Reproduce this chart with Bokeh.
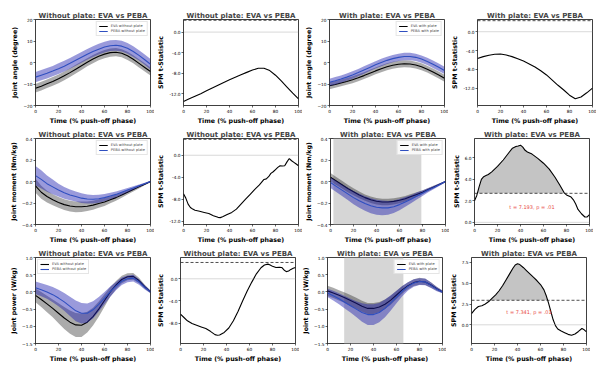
import numpy as np
from bokeh.plotting import figure
from bokeh.layouts import column, row
from bokeh.models import Range1d, FixedTicker, BoxAnnotation, Span, Label, Legend, LegendItem
from bokeh.embed import file_html
from bokeh.resources import INLINE

# ---------------- data ----------------
t = list(range(0, 101, 5))

# Row 1: joint angle (degree)
eva_ang_np = [-12.0, -11.0, -9.9, -8.8, -7.6, -6.2, -4.7, -3.1, -1.5, 0.1, 1.6, 2.9, 3.9, 4.6, 4.8, 4.3, 3.1, 1.5, -0.4, -2.3, -4.2]
eva_ang_np_sd = [2.0, 2.0, 2.0, 2.0, 2.0, 2.0, 2.0, 2.0, 2.0, 1.9, 1.9, 1.9, 1.9, 1.9, 1.9, 1.9, 1.9, 1.9, 1.9, 1.9, 1.9]
peba_ang_np = [-6.8, -5.9, -5.0, -4.0, -2.9, -1.7, -0.4, 1.0, 2.4, 3.8, 5.1, 6.2, 7.2, 7.8, 8.0, 7.6, 6.6, 5.1, 3.3, 1.3, -0.8]
peba_ang_np_sd = [2.4, 2.4, 2.4, 2.4, 2.5, 2.5, 2.5, 2.5, 2.5, 2.5, 2.5, 2.5, 2.5, 2.5, 2.5, 2.5, 2.5, 2.5, 2.4, 2.4, 2.4]
eva_ang_wp = [-10.8, -10.2, -9.5, -8.8, -8.0, -7.1, -6.1, -5.0, -3.9, -2.9, -2.0, -1.3, -0.8, -0.6, -0.7, -1.2, -2.0, -3.1, -4.4, -5.8, -7.3]
eva_ang_wp_sd = [1.6] * 21
peba_ang_wp = [-9.2, -8.5, -7.7, -6.8, -5.8, -4.7, -3.5, -2.3, -1.1, 0.0, 1.0, 1.8, 2.4, 2.8, 2.8, 2.4, 1.6, 0.5, -0.8, -2.2, -3.7]
peba_ang_wp_sd = [1.7] * 21

# Row 2: joint moment (Nm/kg)
eva_mom_np = [-0.04, -0.10, -0.14, -0.17, -0.195, -0.215, -0.228, -0.235, -0.235, -0.23, -0.22, -0.205, -0.19, -0.17, -0.15, -0.125, -0.10, -0.075, -0.05, -0.025, 0.0]
eva_mom_np_sd = [0.065, 0.06, 0.055, 0.052, 0.05, 0.05, 0.05, 0.05, 0.048, 0.045, 0.042, 0.04, 0.037, 0.033, 0.03, 0.026, 0.022, 0.018, 0.014, 0.01, 0.008]
peba_mom_np = [0.055, 0.02, -0.02, -0.05, -0.08, -0.105, -0.125, -0.14, -0.155, -0.163, -0.165, -0.16, -0.15, -0.135, -0.12, -0.10, -0.08, -0.06, -0.04, -0.02, 0.0]
peba_mom_np_sd = [0.09, 0.085, 0.075, 0.068, 0.06, 0.055, 0.05, 0.047, 0.045, 0.042, 0.04, 0.037, 0.034, 0.03, 0.027, 0.023, 0.02, 0.016, 0.012, 0.009, 0.007]
eva_mom_wp = [0.04, 0.005, -0.03, -0.065, -0.095, -0.125, -0.15, -0.17, -0.183, -0.19, -0.19, -0.185, -0.175, -0.16, -0.14, -0.12, -0.10, -0.075, -0.05, -0.025, 0.0]
eva_mom_wp_sd = [0.04, 0.038, 0.036, 0.034, 0.032, 0.031, 0.03, 0.03, 0.03, 0.03, 0.03, 0.029, 0.028, 0.026, 0.024, 0.021, 0.018, 0.015, 0.012, 0.009, 0.007]
peba_mom_wp = [-0.01, -0.045, -0.08, -0.115, -0.15, -0.18, -0.205, -0.225, -0.24, -0.245, -0.245, -0.235, -0.215, -0.19, -0.165, -0.135, -0.11, -0.08, -0.055, -0.028, 0.0]
peba_mom_wp_sd = [0.05, 0.052, 0.055, 0.058, 0.062, 0.065, 0.068, 0.07, 0.07, 0.068, 0.064, 0.058, 0.052, 0.045, 0.038, 0.032, 0.026, 0.02, 0.015, 0.011, 0.008]

# Row 3: joint power (W/kg)
eva_pow_np = [-0.10, -0.22, -0.35, -0.48, -0.62, -0.76, -0.88, -0.96, -0.97, -0.88, -0.72, -0.50, -0.25, 0.0, 0.20, 0.36, 0.44, 0.45, 0.33, 0.15, 0.0]
eva_pow_np_sd = [0.2, 0.22, 0.24, 0.26, 0.29, 0.32, 0.34, 0.35, 0.34, 0.30, 0.26, 0.22, 0.18, 0.14, 0.12, 0.11, 0.10, 0.10, 0.08, 0.06, 0.04]
peba_pow_np = [0.12, 0.06, 0.0, -0.08, -0.18, -0.29, -0.42, -0.55, -0.62, -0.62, -0.52, -0.36, -0.18, 0.01, 0.17, 0.31, 0.38, 0.40, 0.29, 0.13, 0.0]
peba_pow_np_sd = [0.18, 0.19, 0.2, 0.22, 0.24, 0.26, 0.28, 0.3, 0.3, 0.28, 0.25, 0.21, 0.18, 0.15, 0.12, 0.11, 0.10, 0.10, 0.08, 0.06, 0.04]
eva_pow_wp = [0.03, -0.03, -0.10, -0.17, -0.25, -0.33, -0.42, -0.48, -0.48, -0.44, -0.36, -0.24, -0.09, 0.06, 0.18, 0.27, 0.31, 0.29, 0.20, 0.09, 0.0]
eva_pow_wp_sd = [0.15, 0.15, 0.15, 0.15, 0.16, 0.16, 0.16, 0.16, 0.16, 0.15, 0.14, 0.13, 0.12, 0.11, 0.1, 0.1, 0.1, 0.09, 0.08, 0.06, 0.04]
peba_pow_wp = [-0.03, -0.11, -0.20, -0.30, -0.40, -0.50, -0.60, -0.66, -0.66, -0.60, -0.48, -0.32, -0.15, 0.02, 0.16, 0.26, 0.30, 0.29, 0.19, 0.08, 0.0]
peba_pow_wp_sd = [0.12, 0.14, 0.16, 0.18, 0.2, 0.23, 0.27, 0.3, 0.3, 0.28, 0.26, 0.22, 0.18, 0.15, 0.12, 0.11, 0.10, 0.10, 0.08, 0.06, 0.04]

# SPM t-statistics
spm_ang_np_x = list(range(0, 101, 5))
spm_ang_np = [-13.5, -13.0, -12.5, -12.0, -11.45, -10.9, -10.35, -9.8, -9.3, -8.8, -8.3, -7.85, -7.4, -7.05, -7.05, -7.5, -8.4, -9.5, -10.7, -11.9, -13.0]
spm_ang_wp_x = list(range(0, 101, 5))
spm_ang_wp = [-5.7, -5.3, -5.0, -4.8, -4.75, -4.95, -5.3, -5.75, -6.25, -6.85, -7.5, -8.3, -9.2, -10.3, -11.4, -12.4, -13.5, -14.25, -13.9, -13.0, -12.0]
spm_mom_np_x = [0, 2, 4, 6, 8, 10, 14, 18, 22, 26, 30, 32, 34, 38, 42, 46, 50, 54, 58, 62, 66, 70, 72, 74, 76, 78, 80, 82, 84, 86, 88, 90, 92, 94, 96, 98, 100]
spm_mom_np = [-7.0, -7.8, -8.9, -9.5, -9.8, -10.0, -10.2, -10.4, -10.6, -11.0, -11.3, -11.35, -11.2, -10.8, -10.4, -9.8, -8.9, -8.0, -7.1, -6.2, -5.4, -4.4, -4.3, -3.9, -3.3, -3.0, -2.6, -2.2, -1.9, -1.95, -1.9, -1.2, -0.6, -1.0, -1.3, -1.6, -1.9]
spm_mom_wp_x = [0, 2, 4, 6, 8, 10, 12, 15, 20, 25, 30, 33, 36, 38, 40, 42, 44, 46, 50, 55, 60, 65, 70, 74, 78, 80, 84, 86, 88, 90, 93, 96, 98, 100]
spm_mom_wp = [2.0, 2.5, 3.3, 4.0, 4.25, 4.35, 4.45, 4.7, 5.2, 5.8, 6.5, 6.9, 7.05, 7.1, 7.18, 7.0, 6.7, 6.55, 6.35, 5.95, 5.5, 4.95, 4.2, 3.5, 2.75, 2.55, 2.35, 2.1, 1.7, 1.2, 0.8, 0.5, 0.5, 0.72]
spm_pow_np_x = [0, 3, 6, 10, 14, 18, 22, 26, 30, 32, 34, 38, 42, 46, 50, 54, 58, 62, 66, 70, 73, 76, 78, 80, 83, 86, 88, 90, 92, 94, 96, 98, 100]
spm_pow_np = [-6.4, -7.0, -7.6, -8.1, -8.4, -8.7, -9.0, -9.5, -10.1, -10.2, -10.15, -9.7, -8.9, -7.6, -5.9, -4.0, -2.2, -0.6, 0.9, 2.0, 2.5, 2.65, 2.5, 2.25, 2.05, 2.1, 2.05, 1.6, 1.3, 1.4, 1.7, 1.9, 2.05]
spm_pow_wp_x = [0, 3, 6, 9, 12, 15, 18, 21, 24, 27, 30, 33, 36, 38, 40, 42, 45, 48, 51, 54, 57, 60, 63, 65, 67, 69, 71, 73, 75, 78, 81, 84, 87, 90, 93, 96, 98, 100]
spm_pow_wp = [1.35, 1.85, 2.2, 2.3, 2.5, 2.8, 3.2, 3.6, 4.1, 4.7, 5.4, 6.1, 6.8, 7.2, 7.35, 7.25, 6.9, 6.5, 6.1, 5.7, 5.3, 4.85, 4.2, 3.5, 2.6, 1.6, 0.6, -0.1, -0.5, -0.75, -0.95, -1.15, -1.25, -1.1, -0.8, -0.45, -0.6, -0.85]

# critical thresholds
thr_ang_np, thr_ang_wp = 2.3, 2.35
thr_mom_np, thr_mom_wp = 2.9, 2.7
thr_pow_np, thr_pow_wp = 2.95, 2.95

# significant clusters (grey boxes)
clu_mom = (2.5, 79.0)
clu_pow = (14.5, 66.0)

x_ticks = [0, 20, 40, 60, 80, 100]

FONT = "DejaVu Sans"
BLUE = "#2f4fc0"
BLUE_BAND = "#2020b0"
GREY_BAND = "#000000"
FH = 86


def minus(v, fmt):
    s = fmt.format(v)
    return s.replace("-", "\u2212")


def base_fig(title, ylabel, yr, yticks, ylabels, L, R, T, B):
    p = figure(frame_width=115, frame_height=FH, x_range=Range1d(0, 100),
               y_range=Range1d(*yr), output_backend="svg", toolbar_location=None,
               min_border_left=L, min_border_right=R, min_border_top=T,
               min_border_bottom=B, title=title)
    p.title.text_font = FONT
    p.title.text_font_size = "7px"
    p.title.text_font_style = "bold"
    p.title.align = "center"
    p.title.standoff = 0
    p.grid.visible = False
    p.outline_line_color = "black"
    p.outline_line_alpha = 1
    p.outline_line_width = 0.75
    p.background_fill_color = "white"
    p.border_fill_color = "white"
    for ax in (p.xaxis[0], p.yaxis[0]):
        ax.axis_line_color = None
        ax.major_tick_line_color = "black"
        ax.major_tick_line_width = 0.6
        ax.major_tick_out = 2
        ax.major_tick_in = 0
        ax.minor_tick_line_color = None
        ax.major_label_text_font = FONT
        ax.major_label_text_font_size = "4.3px"
        ax.major_label_text_color = "black"
        ax.major_label_standoff = 1
        ax.axis_label_text_font = FONT
        ax.axis_label_text_font_size = "6.3px"
        ax.axis_label_text_font_style = "bold"
        ax.axis_label_text_color = "black"
        ax.axis_label_standoff = 2
    p.xaxis.axis_label_standoff = 1
    p.xaxis.ticker = FixedTicker(ticks=x_ticks)
    p.xaxis.axis_label = "Time (% push-off phase)"
    p.yaxis.ticker = FixedTicker(ticks=yticks)
    p.yaxis.major_label_overrides = {v: s for v, s in zip(yticks, ylabels)}
    p.yaxis.axis_label = ylabel
    return p


def mean_fig(title, ylabel, yr, yticks, fmt, eva, eva_sd, peba, peba_sd, lab_eva, lab_peba, loc,
             L, R, T, B, cluster=None):
    labels = [minus(v, fmt) for v in yticks]
    p = base_fig(title, ylabel, yr, yticks, labels, L, R, T, B)
    if cluster is not None:
        p.add_layout(BoxAnnotation(left=cluster[0], right=cluster[1], fill_color="#d6d6d6",
                                   fill_alpha=1, line_color=None, level="underlay"))
    e = np.array(eva); es = np.array(eva_sd)
    b = np.array(peba); bs = np.array(peba_sd)
    p.varea(x=t, y1=e - es, y2=e + es, fill_color=GREY_BAND, fill_alpha=0.33)
    le = p.line(t, e, line_color="black", line_width=1.1)
    p.varea(x=t, y1=b - bs, y2=b + bs, fill_color=BLUE_BAND, fill_alpha=0.45)
    lb = p.line(t, b, line_color=BLUE, line_width=1.1)
    leg = Legend(items=[LegendItem(label=lab_eva, renderers=[le]),
                        LegendItem(label=lab_peba, renderers=[lb])],
                 location=loc)
    leg.label_text_font = FONT
    leg.label_text_font_size = "3.6px"
    leg.glyph_width = 9
    leg.glyph_height = 4
    leg.label_height = 4
    leg.label_standoff = 3
    leg.spacing = 1
    leg.padding = 2
    leg.margin = 2
    leg.border_line_color = "#cccccc"
    leg.border_line_width = 0.5
    leg.background_fill_alpha = 0.85
    p.add_layout(leg)
    return p


def shade_above(xs, ys, thr):
    xs2, ys2 = [], []
    for i in range(len(xs)):
        if i > 0:
            y0, y1 = ys[i - 1], ys[i]
            if (y0 - thr) * (y1 - thr) < 0:
                xc = xs[i - 1] + (thr - y0) / (y1 - y0) * (xs[i] - xs[i - 1])
                xs2.append(xc)
                ys2.append(thr)
        xs2.append(xs[i])
        ys2.append(ys[i])
    return np.array(xs2), np.maximum(np.array(ys2), thr)


def spm_fig(title, yr, yticks, xs, ys, thr, L, R, T, B, text=None, text_y=None):
    labels = ["{:.1f}".format(v) for v in yticks]
    p = base_fig(title, "SPM t-Statistic", yr, yticks, labels, L, R, T, B)
    sx, sy = shade_above(xs, ys, thr)
    if np.any(sy > thr):
        p.varea(x=sx, y1=thr, y2=sy, fill_color="#c4c4c4", fill_alpha=1)
    p.add_layout(Span(location=0, dimension="width", line_color="#909090",
                      line_dash="1 1", line_width=0.7))
    p.add_layout(Span(location=thr, dimension="width", line_color="#222222",
                      line_dash="3 2", line_width=0.8))
    p.line(xs, ys, line_color="black", line_width=1.1)
    if text is not None:
        p.add_layout(Label(x=50, y=text_y, text=text, text_align="center",
                           text_baseline="middle", text_color="#e8473f",
                           text_font=FONT, text_font_size="5px"))
    return p


T_NP = "Without plate: EVA vs PEBA"
T_WP = "With plate: EVA vs PEBA"
LB = [35, 25, 26, 25]
RB = [4, 4, 4, 4]
TB = [19, 12, 12]
BB = [21, 21, 17]

rows = []
# row 1
r = 0
rows.append(row(
    mean_fig(T_NP, "Joint angle (degree)", (-20, 20), [-20, -10, 0, 10, 20], "{:.0f}",
             eva_ang_np, eva_ang_np_sd, peba_ang_np, peba_ang_np_sd,
             "EVA without plate", "PEBA without plate", "top_right", LB[0], RB[0], TB[r], BB[r]),
    spm_fig(T_NP, (-14.3, 2.45), [0, -4, -8, -12], spm_ang_np_x, spm_ang_np, thr_ang_np,
            LB[1], RB[1], TB[r], BB[r]),
    mean_fig(T_WP, "Joint angle (degree)", (-20, 20), [-20, -10, 0, 10, 20], "{:.0f}",
             eva_ang_wp, eva_ang_wp_sd, peba_ang_wp, peba_ang_wp_sd,
             "EVA with plate", "PEBA with plate", "top_right", LB[2], RB[2], TB[r], BB[r]),
    spm_fig(T_WP, (-15.7, 2.6), [0, -4, -8, -12], spm_ang_wp_x, spm_ang_wp, thr_ang_wp,
            LB[3], RB[3], TB[r], BB[r]),
    spacing=0))
# row 2
r = 1
rows.append(row(
    mean_fig(T_NP, "Joint moment (Nm/kg)", (-0.4, 0.4), [-0.4, -0.2, 0.0, 0.2, 0.4], "{:.1f}",
             eva_mom_np, eva_mom_np_sd, peba_mom_np, peba_mom_np_sd,
             "EVA without plate", "PEBA without plate", "top_right", LB[0], RB[0], TB[r], BB[r]),
    spm_fig(T_NP, (-12.6, 3.05), [0, -4, -8, -12], spm_mom_np_x, spm_mom_np, thr_mom_np,
            LB[1], RB[1], TB[r], BB[r]),
    mean_fig(T_WP, "Joint moment (Nm/kg)", (-0.4, 0.4), [-0.4, -0.2, 0.0, 0.2, 0.4], "{:.1f}",
             eva_mom_wp, eva_mom_wp_sd, peba_mom_wp, peba_mom_wp_sd,
             "EVA with plate", "PEBA with plate", "top_right", LB[2], RB[2], TB[r], BB[r],
             cluster=clu_mom),
    spm_fig(T_WP, (-0.2, 7.8), [0, 2, 4, 6], spm_mom_wp_x, spm_mom_wp, thr_mom_wp,
            LB[3], RB[3], TB[r], BB[r], text="t = 7.193, p = .01", text_y=1.4),
    spacing=0))
# row 3
r = 2
rows.append(row(
    mean_fig(T_NP, "Joint power (W/kg)", (-1.5, 1.0), [-1.5, -1.0, -0.5, 0.0, 0.5, 1.0], "{:.1f}",
             eva_pow_np, eva_pow_np_sd, peba_pow_np, peba_pow_np_sd,
             "EVA without plate", "PEBA without plate", "top_left", LB[0], RB[0], TB[r], BB[r]),
    spm_fig(T_NP, (-11.7, 3.85), [0, -4, -8], spm_pow_np_x, spm_pow_np, thr_pow_np,
            LB[1], RB[1], TB[r], BB[r]),
    mean_fig(T_WP, "Joint power (W/kg)", (-1.5, 1.0), [-1.5, -1.0, -0.5, 0.0, 0.5, 1.0], "{:.1f}",
             eva_pow_wp, eva_pow_wp_sd, peba_pow_wp, peba_pow_wp_sd,
             "EVA with plate", "PEBA with plate", "top_right", LB[2], RB[2], TB[r], BB[r],
             cluster=clu_pow),
    spm_fig(T_WP, (-2.25, 8.1), [0, 2.5, 5, 7.5], spm_pow_wp_x, spm_pow_wp, thr_pow_wp,
            LB[3], RB[3], TB[r], BB[r], text="t = 7.341, p = .01", text_y=1.5),
    spacing=0))

layout = column(*rows, spacing=0)
open("out.html", "w").write(file_html(layout, INLINE))
